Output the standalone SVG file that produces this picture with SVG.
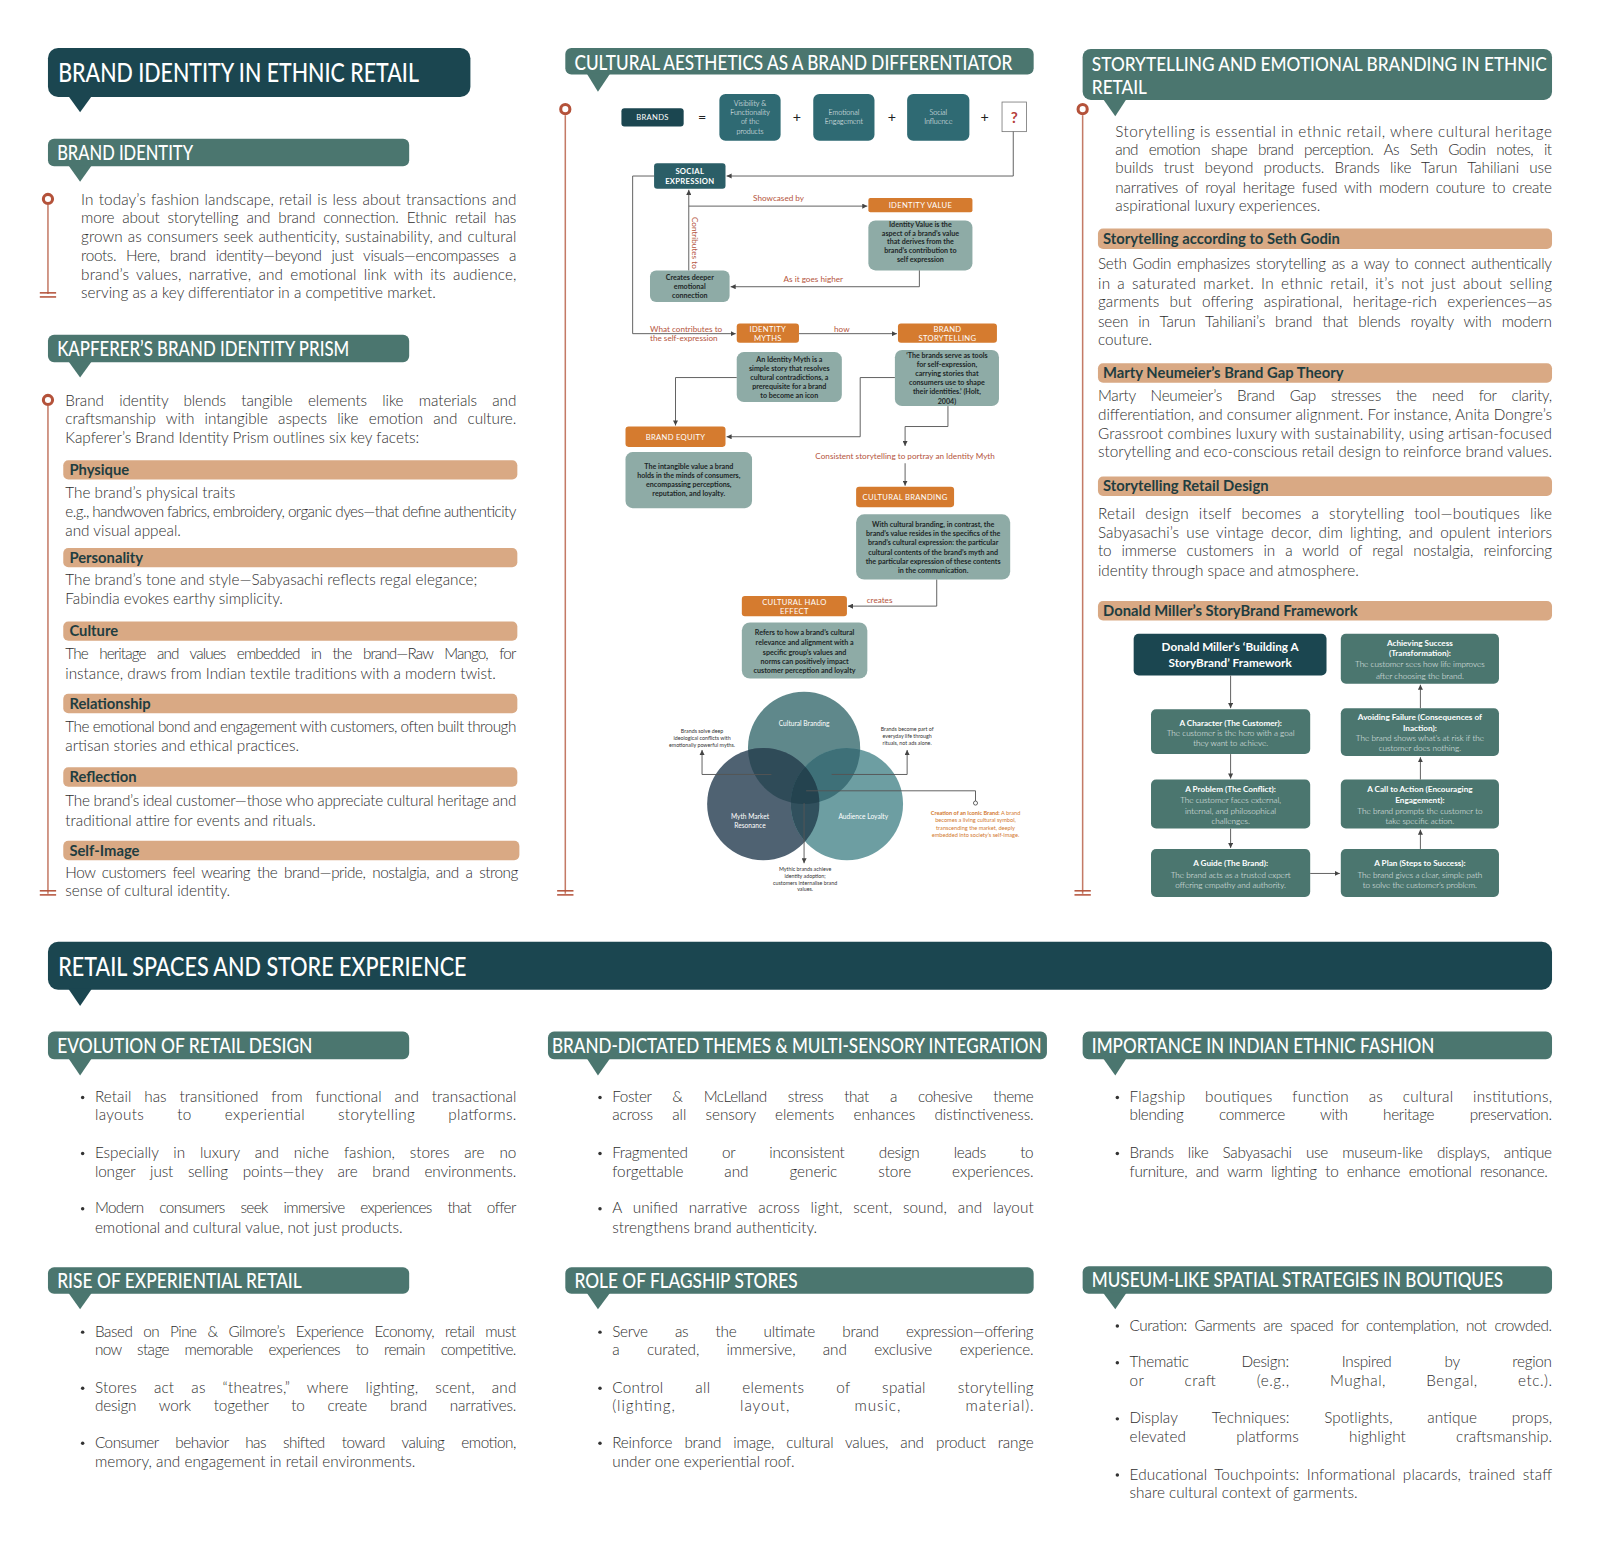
<svg xmlns="http://www.w3.org/2000/svg" width="1600" height="1551" viewBox="0 0 1600 1551">
<style>
text{font-family:Lato,"Noto Sans","DejaVu Sans",sans-serif}
.h{fill:#fff;font-weight:500}
.h1{font-size:27px}
.h2{font-size:20px}
.b{font-size:15px;font-weight:300;fill:#2e2e2e}
.bt{font-size:14.5px;font-weight:700;fill:#1f3d40}
.dk{fill:#1b4650}
.sub{fill:#4b766f}
.tan{fill:#d9a984}
.org{fill:#d57b2f}
.gry{fill:#8eaba6}
.tea{fill:#2f6a73}
.ot{font-size:7.5px;fill:#fff;text-anchor:middle;letter-spacing:0.3px}
.dt{font-size:7px;font-weight:700;fill:#1e2828;text-anchor:middle}
.lab{font-size:8px;fill:#b5553d}
.et{font-size:7px;fill:#fff;text-anchor:middle;font-weight:300}
.vt{font-size:5.2px;fill:#333;text-anchor:middle}
.vw{font-size:6.5px;fill:#fff;text-anchor:middle}
.it{font-size:5.5px;fill:#d2782e;text-anchor:middle}
.sbh{font-size:8px;font-weight:700;fill:#fff;text-anchor:middle}
.sbb{font-size:8px;font-weight:300;fill:#eef3f2;text-anchor:middle}
.con{fill:none;stroke:#555;stroke-width:0.9}
.vl{stroke:#c47a66;stroke-width:1.5;fill:none}
.dl{stroke:#b4523a;stroke-width:1.5}
.mk{fill:#fff;stroke:#b4523a;stroke-width:3}
.bul{fill:#333}
</style>
<defs>
<marker id="ar" viewBox="0 0 6 6" refX="6" refY="3" markerWidth="5" markerHeight="5" markerUnits="userSpaceOnUse" orient="auto"><path d="M0,0 L6,3 L0,6 z" fill="#444"/></marker>
<clipPath id="cC"><circle cx="788" cy="733" r="55"/></clipPath>
<clipPath id="cM"><circle cx="748" cy="788" r="55"/></clipPath>
</defs>
<rect width="1600" height="1551" fill="#fff"/>
<g transform="scale(1.0204)">

<!-- LEFT COLUMN -->
<g id="hdr-brand-identity-ethnic">
<rect x="47" y="47" width="414" height="48" rx="10" class="dk"/>
<path d="M67 94 L90 94 L78.5 110 z" class="dk"/>
<text class="h h1" transform="translate(57,80.5) scale(0.8,1)" textLength="442" lengthAdjust="spacingAndGlyphs">BRAND IDENTITY IN ETHNIC RETAIL</text>
</g>
<g id="hdr-brand-identity">
<rect x="47" y="136" width="354" height="27" rx="6" class="sub"/>
<path d="M67 162 L90 162 L78.5 178 z" class="sub"/>
<text class="h h2" transform="translate(56,157) scale(0.9,1)" textLength="148" lengthAdjust="spacingAndGlyphs">BRAND IDENTITY</text>
</g>
<g id="brand-identity-text">
<line x1="47" y1="201" x2="47" y2="288" class="vl"/>
<circle cx="47" cy="195" r="4.5" class="mk"/>
<line x1="39" y1="287" x2="55" y2="287" class="dl"/><line x1="39" y1="291" x2="55" y2="291" class="dl"/>
<text class="b" x="79.5" y="201" textLength="426.5" style="word-spacing:1px">In today’s fashion landscape, retail is less about transactions and</text>
<text class="b" x="79.5" y="219" textLength="426.5" style="word-spacing:4px">more about storytelling and brand connection. Ethnic retail has</text>
<text class="b" x="79.5" y="237" textLength="426.5" style="word-spacing:1px">grown as consumers seek authenticity, sustainability, and cultural</text>
<text class="b" x="79.5" y="256" textLength="426.5" style="word-spacing:6px">roots. Here, brand identity—beyond just visuals—encompasses a</text>
<text class="b" x="79.5" y="274" textLength="426.5" style="word-spacing:3px">brand’s values, narrative, and emotional link with its audience,</text>
<text class="b" x="79.5" y="292">serving as a key differentiator in a competitive market.</text>
</g>
<g id="hdr-kapferer">
<rect x="47" y="328" width="354" height="27" rx="6" class="sub"/>
<path d="M67 354 L90 354 L78.5 370 z" class="sub"/>
<text class="h h2" transform="translate(56,349) scale(0.87,1)" textLength="329" lengthAdjust="spacingAndGlyphs">KAPFERER’S BRAND IDENTITY PRISM</text>
</g>
<g id="kapferer-text">
<line x1="47" y1="398" x2="47" y2="876" class="vl"/>
<circle cx="47" cy="392" r="4.5" class="mk"/>
<line x1="39" y1="873" x2="55" y2="873" class="dl"/><line x1="39" y1="877" x2="55" y2="877" class="dl"/>
<text class="b" x="64" y="398" textLength="442" style="word-spacing:11px">Brand identity blends tangible elements like materials and</text>
<text class="b" x="64" y="416" textLength="442" style="word-spacing:6px">craftsmanship with intangible aspects like emotion and culture.</text>
<text class="b" x="64" y="434">Kapferer’s Brand Identity Prism outlines six key facets:</text>
</g>
<g id="facet-physique">
<rect x="62" y="451" width="445" height="19" rx="5" class="tan"/>
<text class="bt" x="68" y="465.5">Physique</text>
<text class="b" x="64" y="488">The brand’s physical traits</text>
<text class="b" x="64" y="507" textLength="442">e.g., handwoven fabrics, embroidery, organic dyes—that define authenticity</text>
<text class="b" x="64" y="525">and visual appeal.</text>
</g>
<g id="facet-personality">
<rect x="62" y="537" width="445" height="19" rx="5" class="tan"/>
<text class="bt" x="68" y="551.5">Personality</text>
<text class="b" x="64" y="573">The brand’s tone and style—Sabyasachi reflects regal elegance;</text>
<text class="b" x="64" y="592">Fabindia evokes earthy simplicity.</text>
</g>
<g id="facet-culture">
<rect x="62" y="609" width="445" height="19" rx="5" class="tan"/>
<text class="bt" x="68" y="623.5">Culture</text>
<text class="b" x="64" y="646" textLength="442" style="word-spacing:8px">The heritage and values embedded in the brand—Raw Mango, for</text>
<text class="b" x="64" y="665">instance, draws from Indian textile traditions with a modern twist.</text>
</g>
<g id="facet-relationship">
<rect x="62" y="680" width="445" height="19" rx="5" class="tan"/>
<text class="bt" x="68" y="694.5">Relationship</text>
<text class="b" x="64" y="717" textLength="442">The emotional bond and engagement with customers, often built through</text>
<text class="b" x="64" y="736">artisan stories and ethical practices.</text>
</g>
<g id="facet-reflection">
<rect x="62" y="752" width="445" height="19" rx="5" class="tan"/>
<text class="bt" x="68" y="766.5">Reflection</text>
<text class="b" x="64" y="790" textLength="442">The brand’s ideal customer—those who appreciate cultural heritage and</text>
<text class="b" x="64" y="809">traditional attire for events and rituals.</text>
</g>
<g id="facet-self-image">
<rect x="62" y="824" width="447" height="19" rx="5" class="tan"/>
<text class="bt" x="68" y="838.5">Self-Image</text>
<text class="b" x="64" y="860" textLength="444" style="word-spacing:3px">How customers feel wearing the brand—pride, nostalgia, and a strong</text>
<text class="b" x="64" y="878">sense of cultural identity.</text>
</g>

<!-- CENTER COLUMN -->
<g id="hdr-cultural-aesthetics">
<rect x="554" y="47" width="459" height="26" rx="6" class="sub"/>
<path d="M575 72 L598 72 L586 90 z" class="sub"/>
<text class="h h2" transform="translate(563,68.5) scale(0.88,1)" textLength="487.5" lengthAdjust="spacingAndGlyphs">CULTURAL AESTHETICS AS A BRAND DIFFERENTIATOR</text>
<line x1="554" y1="113" x2="554" y2="876" class="vl"/>
<circle cx="554" cy="107" r="4.5" class="mk"/>
<line x1="546" y1="873" x2="562" y2="873" class="dl"/><line x1="546" y1="877" x2="562" y2="877" class="dl"/>
</g>
<g id="eq-brands"><rect x="609" y="106" width="61" height="18" rx="3" class="dk"/><text class="ot" x="639.5" y="118">BRANDS</text></g>
<text x="688" y="120" font-size="14" text-anchor="middle" fill="#222">=</text>
<g id="eq-visibility"><rect x="705" y="92" width="60" height="46" rx="6" class="tea"/>
<text class="et" x="735" y="104">Visibility &amp;</text><text class="et" x="735" y="113">Functionality</text><text class="et" x="735" y="122">of the</text><text class="et" x="735" y="131">products</text></g>
<text x="781" y="120" font-size="14" text-anchor="middle" fill="#222">+</text>
<g id="eq-emotional"><rect x="797" y="92" width="60" height="46" rx="6" class="tea"/>
<text class="et" x="827" y="113">Emotional</text><text class="et" x="827" y="122">Engagement</text></g>
<text x="874" y="120" font-size="14" text-anchor="middle" fill="#222">+</text>
<g id="eq-social"><rect x="889" y="92" width="61" height="46" rx="6" class="tea"/>
<text class="et" x="919.5" y="113">Social</text><text class="et" x="919.5" y="122">Influence</text></g>
<text x="965" y="120" font-size="14" text-anchor="middle" fill="#222">+</text>
<g id="eq-question"><rect x="982" y="100" width="24" height="29" fill="#fff" stroke="#777" stroke-width="0.8"/>
<text x="994" y="120.5" font-size="15" font-weight="700" text-anchor="middle" fill="#b5403a">?</text></g>

<g id="n-social-expression"><rect x="641" y="160" width="70" height="25" rx="3" fill="#2b5e67"/>
<text class="ot" x="676" y="171" font-weight="700">SOCIAL</text><text class="ot" x="676" y="180" font-weight="700">EXPRESSION</text></g>
<g id="n-identity-value"><rect x="851" y="194" width="102" height="14" rx="2" class="org"/>
<text class="ot" x="902" y="203.8">IDENTITY VALUE</text></g>
<g id="n-identity-value-desc"><rect x="851" y="216" width="102" height="49" rx="7" class="gry"/>
<text class="dt" x="902" y="222.5">Identity Value is the</text><text class="dt" x="902" y="231">aspect of a brand’s value</text><text class="dt" x="902" y="239.5">that derives from the</text><text class="dt" x="902" y="248">brand’s contribution to</text><text class="dt" x="902" y="256.5">self expression</text></g>
<g id="n-creates"><rect x="637" y="265" width="78" height="31" rx="6" class="gry"/>
<text class="dt" x="676" y="274.5">Creates deeper</text><text class="dt" x="676" y="283.5">emotional</text><text class="dt" x="676" y="292">connection</text></g>
<g id="n-identity-myths"><rect x="722" y="317" width="61" height="19" rx="3" class="org"/>
<text class="ot" x="752.5" y="325">IDENTITY</text><text class="ot" x="752.5" y="334">MYTHS</text></g>
<g id="n-brand-storytelling"><rect x="880" y="317" width="97" height="19" rx="3" class="org"/>
<text class="ot" x="928.5" y="325">BRAND</text><text class="ot" x="928.5" y="334">STORYTELLING</text></g>
<g id="n-identity-myth-desc"><rect x="722" y="345" width="103" height="49" rx="7" class="gry"/>
<text class="dt" x="773.5" y="354.5">An Identity Myth is a</text><text class="dt" x="773.5" y="363.5">simple story that resolves</text><text class="dt" x="773.5" y="372.5">cultural contradictions, a</text><text class="dt" x="773.5" y="381.5">prerequisite for a brand</text><text class="dt" x="773.5" y="390.5">to become an icon</text></g>
<g id="n-holt"><rect x="877" y="343" width="102" height="55" rx="7" class="gry"/>
<text class="dt" x="928" y="350.5">‘The brands serve as tools</text><text class="dt" x="928" y="359.5">for self-expression,</text><text class="dt" x="928" y="368.5">carrying stories that</text><text class="dt" x="928" y="377.5">consumers use to shape</text><text class="dt" x="928" y="386.5">their identities.’ (Holt,</text><text class="dt" x="928" y="395.5">2004)</text></g>
<g id="n-brand-equity"><rect x="613" y="418" width="98" height="20" rx="3" class="org"/>
<text class="ot" x="662" y="431">BRAND EQUITY</text></g>
<g id="n-brand-equity-desc"><rect x="613" y="443" width="124" height="55" rx="7" class="gry"/>
<text class="dt" x="675" y="459.5">The intangible value a brand</text><text class="dt" x="675" y="468.5">holds in the minds of consumers,</text><text class="dt" x="675" y="477.5">encompassing perceptions,</text><text class="dt" x="675" y="486.5">reputation, and loyalty.</text></g>
<g id="n-cultural-branding"><rect x="839" y="477" width="96" height="20" rx="3" class="org"/>
<text class="ot" x="887" y="490">CULTURAL BRANDING</text></g>
<g id="n-cultural-branding-desc"><rect x="839" y="504" width="151" height="64" rx="8" class="gry"/>
<text class="dt" x="914.5" y="516" font-size="6.5">With cultural branding, in contrast, the</text><text class="dt" x="914.5" y="525" font-size="6.5">brand’s value resides in the specifics of the</text><text class="dt" x="914.5" y="534.5" font-size="6.5">brand’s cultural expression: the particular</text><text class="dt" x="914.5" y="543.5" font-size="6.5">cultural contents of the brand’s myth and</text><text class="dt" x="914.5" y="553" font-size="6.5">the particular expression of these contents</text><text class="dt" x="914.5" y="562" font-size="6.5">in the communication.</text></g>
<g id="n-halo"><rect x="727" y="584" width="103" height="20" rx="3" class="org"/>
<text class="ot" x="778.5" y="592.5">CULTURAL HALO</text><text class="ot" x="778.5" y="601.5">EFFECT</text></g>
<g id="n-halo-desc"><rect x="727" y="610" width="123" height="55" rx="8" class="gry"/>
<text class="dt" x="788.5" y="622.5">Refers to how a brand’s cultural</text><text class="dt" x="788.5" y="632">relevance and alignment with a</text><text class="dt" x="788.5" y="641.5">specific group’s values and</text><text class="dt" x="788.5" y="650.5">norms can positively impact</text><text class="dt" x="788.5" y="660">customer perception and loyalty</text></g>

<g id="venn">
<circle cx="788" cy="733" r="55" fill="#5f888b"/>
<circle cx="748" cy="788" r="55" fill="#4f6272"/>
<circle cx="830" cy="788" r="55" fill="#6d9ea2"/>
<circle cx="748" cy="788" r="55" fill="#2f4b58" clip-path="url(#cC)"/>
<circle cx="830" cy="788" r="55" fill="#3e7078" clip-path="url(#cC)"/>
<circle cx="830" cy="788" r="55" fill="#31505d" clip-path="url(#cM)"/>
<g clip-path="url(#cC)"><circle cx="830" cy="788" r="55" fill="#24434f" clip-path="url(#cM)"/></g>
<text class="vw" x="788" y="711">Cultural Branding</text>
<text class="vw" x="735" y="803">Myth Market</text><text class="vw" x="735" y="811">Resonance</text>
<text class="vw" x="846" y="803">Audience Loyalty</text>
<text class="vt" x="688" y="718">Brands solve deep</text><text class="vt" x="688" y="725">ideological conflicts with</text><text class="vt" x="688" y="732">emotionally powerful myths.</text>
<text class="vt" x="889" y="716">Brands become part of</text><text class="vt" x="889" y="723">everyday life through</text><text class="vt" x="889" y="730">rituals, not ads alone.</text>
<text class="it" x="956" y="799"><tspan font-weight="700">Creation of an Iconic Brand:</tspan> A brand</text>
<text class="it" x="956" y="806">becomes a living cultural symbol,</text><text class="it" x="956" y="813">transcending the market, deeply</text><text class="it" x="956" y="820">embedded into society’s self-image.</text>
<text class="vt" x="789" y="854">Mythic brands achieve</text><text class="vt" x="789" y="860.5">identity adoption;</text><text class="vt" x="789" y="867">customers internalise brand</text><text class="vt" x="789" y="873.5">values.</text>
</g>

<!-- RIGHT COLUMN -->
<g id="hdr-storytelling">
<rect x="1061" y="48" width="460" height="50" rx="8" class="sub"/>
<path d="M1081 97 L1104 97 L1093 114 z" class="sub"/>
<text class="h" font-size="19" transform="translate(1070,69.5) scale(0.96,1)" textLength="464.5" lengthAdjust="spacingAndGlyphs">STORYTELLING AND EMOTIONAL BRANDING IN ETHNIC</text>
<text class="h" font-size="19" transform="translate(1070,92.5) scale(0.9,1)" textLength="60" lengthAdjust="spacingAndGlyphs">RETAIL</text>
<line x1="1061" y1="113" x2="1061" y2="876" class="vl"/>
<circle cx="1061" cy="107" r="4.5" class="mk"/>
<line x1="1053" y1="873" x2="1069" y2="873" class="dl"/><line x1="1053" y1="877" x2="1069" y2="877" class="dl"/>
</g>
<g id="storytelling-text">
<text class="b" x="1093" y="134" textLength="428">Storytelling is essential in ethnic retail, where cultural heritage</text>
<text class="b" x="1093" y="152" textLength="428" style="word-spacing:7px">and emotion shape brand perception. As Seth Godin notes, it</text>
<text class="b" x="1093" y="170" textLength="428" style="word-spacing:6px">builds trust beyond products. Brands like Tarun Tahiliani use</text>
<text class="b" x="1093" y="189" textLength="428" style="word-spacing:3px">narratives of royal heritage fused with modern couture to create</text>
<text class="b" x="1093" y="207">aspirational luxury experiences.</text>
</g>
<g id="sec-seth-godin">
<rect x="1076" y="224" width="445" height="20" rx="5" class="tan"/>
<text class="bt" x="1081" y="239">Storytelling according to Seth Godin</text>
<text class="b" x="1076" y="264" textLength="445" style="word-spacing:2px">Seth Godin emphasizes storytelling as a way to connect authentically</text>
<text class="b" x="1076" y="283" textLength="445" style="word-spacing:2.5px">in a saturated market. In ethnic retail, it’s not just about selling</text>
<text class="b" x="1076" y="301" textLength="445" style="word-spacing:6px">garments but offering aspirational, heritage-rich experiences—as</text>
<text class="b" x="1076" y="320" textLength="445" style="word-spacing:6px">seen in Tarun Tahiliani’s brand that blends royalty with modern</text>
<text class="b" x="1076" y="338">couture.</text>
</g>
<g id="sec-marty">
<rect x="1076" y="356" width="445" height="19" rx="5" class="tan"/>
<text class="bt" x="1081" y="370.5">Marty Neumeier’s Brand Gap Theory</text>
<text class="b" x="1076" y="393" textLength="445" style="word-spacing:11px">Marty Neumeier’s Brand Gap stresses the need for clarity,</text>
<text class="b" x="1076" y="412" textLength="445">differentiation, and consumer alignment. For instance, Anita Dongre’s</text>
<text class="b" x="1076" y="430" textLength="445">Grassroot combines luxury with sustainability, using artisan-focused</text>
<text class="b" x="1076" y="448" textLength="445">storytelling and eco-conscious retail design to reinforce brand values.</text>
</g>
<g id="sec-retail-design">
<rect x="1076" y="467" width="445" height="19" rx="5" class="tan"/>
<text class="bt" x="1081" y="481.5">Storytelling Retail Design</text>
<text class="b" x="1076" y="509" textLength="445" style="word-spacing:5.5px">Retail design itself becomes a storytelling tool—boutiques like</text>
<text class="b" x="1076" y="527" textLength="445" style="word-spacing:3px">Sabyasachi’s use vintage decor, dim lighting, and opulent interiors</text>
<text class="b" x="1076" y="545" textLength="445" style="word-spacing:6px">to immerse customers in a world of regal nostalgia, reinforcing</text>
<text class="b" x="1076" y="564">identity through space and atmosphere.</text>
</g>
<g id="sec-donald-miller">
<rect x="1076" y="589" width="445" height="19" rx="5" class="tan"/>
<text class="bt" x="1081" y="603.5">Donald Miller’s StoryBrand Framework</text>
</g>
<g id="sb-title"><rect x="1111" y="621" width="189" height="41" rx="5" class="dk"/>
<text x="1205.5" y="638" font-size="11.5" font-weight="700" fill="#fff" text-anchor="middle">Donald Miller’s ‘Building A</text>
<text x="1205.5" y="654" font-size="11.5" font-weight="700" fill="#fff" text-anchor="middle">StoryBrand’ Framework</text></g>
<g id="sb-character"><rect x="1128" y="695" width="156" height="44" rx="5" class="sub"/>
<text class="sbh" x="1206" y="711">A Character (The Customer):</text><text class="sbb" x="1206" y="721">The customer is the hero with a goal</text><text class="sbb" x="1206" y="731">they want to achieve.</text></g>
<g id="sb-problem"><rect x="1128" y="764" width="156" height="48" rx="5" class="sub"/>
<text class="sbh" x="1206" y="776">A Problem (The Conflict):</text><text class="sbb" x="1206" y="787">The customer faces external,</text><text class="sbb" x="1206" y="798">internal, and philosophical</text><text class="sbb" x="1206" y="808">challenges.</text></g>
<g id="sb-guide"><rect x="1128" y="832" width="156" height="47" rx="5" class="sub"/>
<text class="sbh" x="1206" y="849">A Guide (The Brand):</text><text class="sbb" x="1206" y="860">The brand acts as a trusted expert</text><text class="sbb" x="1206" y="870">offering empathy and authority.</text></g>
<g id="sb-plan"><rect x="1314" y="832" width="155" height="47" rx="5" class="sub"/>
<text class="sbh" x="1391.5" y="849">A Plan (Steps to Success):</text><text class="sbb" x="1391.5" y="860">The brand gives a clear, simple path</text><text class="sbb" x="1391.5" y="870">to solve the customer’s problem.</text></g>
<g id="sb-call"><rect x="1314" y="764" width="155" height="48" rx="5" class="sub"/>
<text class="sbh" x="1391.5" y="776">A Call to Action (Encouraging</text><text class="sbh" x="1391.5" y="787">Engagement):</text><text class="sbb" x="1391.5" y="798">The brand prompts the customer to</text><text class="sbb" x="1391.5" y="808">take specific action.</text></g>
<g id="sb-avoid"><rect x="1314" y="694" width="155" height="47" rx="5" class="sub"/>
<text class="sbh" x="1391.5" y="706">Avoiding Failure (Consequences of</text><text class="sbh" x="1391.5" y="716">Inaction):</text><text class="sbb" x="1391.5" y="726">The brand shows what’s at risk if the</text><text class="sbb" x="1391.5" y="736">customer does nothing.</text></g>
<g id="sb-success"><rect x="1314" y="621" width="155" height="49" rx="5" class="sub"/>
<text class="sbh" x="1391.5" y="633">Achieving Success</text><text class="sbh" x="1391.5" y="643">(Transformation):</text><text class="sbb" x="1391.5" y="654">The customer sees how life improves</text><text class="sbb" x="1391.5" y="665">after choosing the brand.</text></g>

<!-- CONNECTORS -->
<g id="connectors" class="con">
<path d="M993 129 V172.5 H712" marker-end="url(#ar)"/>
<path d="M641 172.5 H620 V327 H721" marker-end="url(#ar)"/>
<path d="M675 265 V186" marker-end="url(#ar)"/>
<path d="M675 202 H850" marker-end="url(#ar)"/>
<path d="M901 265 V281 H716" marker-end="url(#ar)"/>
<path d="M783 327 H879" marker-end="url(#ar)"/>
<path d="M722 370 H662 V417" marker-end="url(#ar)"/>
<path d="M877 370 H843 V428 H712" marker-end="url(#ar)"/>
<path d="M929 398 V418 H887 V437" marker-end="url(#ar)"/>
<path d="M887 454 V476" marker-end="url(#ar)"/>
<path d="M918 568 V594 H831" marker-end="url(#ar)"/>
<path d="M756 759 H688 V735" marker-end="url(#ar)"/>
<path d="M815 759 H889 V735" marker-end="url(#ar)"/>
<path d="M790 775 H956 V785"/>
<circle cx="956" cy="787" r="2" fill="#fff"/>
<path d="M788 787 V846" marker-end="url(#ar)"/>
<path d="M1206 662 V694" marker-end="url(#ar)"/>
<path d="M1206 739 V763" marker-end="url(#ar)"/>
<path d="M1206 812 V831" marker-end="url(#ar)"/>
<path d="M1284 856 H1313" marker-end="url(#ar)"/>
<path d="M1392 832 V813" marker-end="url(#ar)"/>
<path d="M1392 764 V742" marker-end="url(#ar)"/>
<path d="M1392 694 V671" marker-end="url(#ar)"/>
</g>
<g id="connector-labels">
<text class="lab" x="763" y="197" text-anchor="middle">Showcased by</text>
<text class="lab" transform="translate(678,238) rotate(90)" text-anchor="middle">Contributes to</text>
<text class="lab" x="797" y="276" text-anchor="middle">As it goes higher</text>
<text class="lab" x="637" y="325">What contributes to</text>
<text class="lab" x="637" y="334">the self-expression</text>
<text class="lab" x="825" y="325" text-anchor="middle">how</text>
<text class="lab" x="887" y="449.5" text-anchor="middle" font-size="7.5">Consistent storytelling to portray an Identity Myth</text>
<text class="lab" x="862" y="590.5" text-anchor="middle">creates</text>
</g>

<!-- BOTTOM SECTION -->
<g id="hdr-retail-spaces">
<rect x="47" y="923" width="1474" height="47" rx="10" class="dk"/>
<path d="M67 969 L90 969 L78.5 986 z" class="dk"/>
<text class="h h1" transform="translate(57,956) scale(0.82,1)" textLength="488" lengthAdjust="spacingAndGlyphs">RETAIL SPACES AND STORE EXPERIENCE</text>
</g>
<g id="sec-evolution">
<rect x="47" y="1011" width="354" height="27" rx="6" class="sub"/>
<path d="M67 1037 L90 1037 L78.5 1054 z" class="sub"/>
<text class="h h2" transform="translate(56,1032) scale(0.9,1)" textLength="278" lengthAdjust="spacingAndGlyphs">EVOLUTION OF RETAIL DESIGN</text>
<circle cx="81" cy="1075.5" r="1.7" class="bul"/><circle cx="81" cy="1130.5" r="1.7" class="bul"/><circle cx="81" cy="1184.5" r="1.7" class="bul"/>
<text class="b" x="93" y="1080" textLength="413" style="word-spacing:8.5px">Retail has transitioned from functional and transactional</text>
<text class="b" x="93" y="1098" textLength="413" style="word-spacing:28px">layouts to experiential storytelling platforms.</text>
<text class="b" x="93" y="1135" textLength="413" style="word-spacing:10.5px">Especially in luxury and niche fashion, stores are no</text>
<text class="b" x="93" y="1153" textLength="413" style="word-spacing:10.5px">longer just selling points—they are brand environments.</text>
<text class="b" x="93" y="1189" textLength="413" style="word-spacing:12px">Modern consumers seek immersive experiences that offer</text>
<text class="b" x="93" y="1208">emotional and cultural value, not just products.</text>
</g>
<g id="sec-themes">
<rect x="537" y="1011" width="489" height="27" rx="6" class="sub"/>
<path d="M575 1037 L598 1037 L586 1054 z" class="sub"/>
<text class="h h2" transform="translate(541,1032) scale(0.9,1)" textLength="533" lengthAdjust="spacingAndGlyphs">BRAND-DICTATED THEMES &amp; MULTI-SENSORY INTEGRATION</text>
<circle cx="588" cy="1075.5" r="1.7" class="bul"/><circle cx="588" cy="1130.5" r="1.7" class="bul"/><circle cx="588" cy="1184.5" r="1.7" class="bul"/>
<text class="b" x="600" y="1080" textLength="413" style="word-spacing:17px">Foster &amp; McLelland stress that a cohesive theme</text>
<text class="b" x="600" y="1098" textLength="413" style="word-spacing:15px">across all sensory elements enhances distinctiveness.</text>
<text class="b" x="600" y="1135" textLength="413" style="word-spacing:30px">Fragmented or inconsistent design leads to</text>
<text class="b" x="600" y="1153" textLength="413" style="word-spacing:36px">forgettable and generic store experiences.</text>
<text class="b" x="600" y="1189" textLength="413" style="word-spacing:6.5px">A unified narrative across light, scent, sound, and layout</text>
<text class="b" x="600" y="1208">strengthens brand authenticity.</text>
</g>
<g id="sec-importance">
<rect x="1061" y="1011" width="460" height="27" rx="6" class="sub"/>
<path d="M1081 1037 L1104 1037 L1093 1054 z" class="sub"/>
<text class="h h2" transform="translate(1070,1032) scale(0.9,1)" textLength="373" lengthAdjust="spacingAndGlyphs">IMPORTANCE IN INDIAN ETHNIC FASHION</text>
<circle cx="1095" cy="1075.5" r="1.7" class="bul"/><circle cx="1095" cy="1130.5" r="1.7" class="bul"/>
<text class="b" x="1107" y="1080" textLength="414" style="word-spacing:15px">Flagship boutiques function as cultural institutions,</text>
<text class="b" x="1107" y="1098" textLength="414" style="word-spacing:31px">blending commerce with heritage preservation.</text>
<text class="b" x="1107" y="1135" textLength="414" style="word-spacing:10px">Brands like Sabyasachi use museum-like displays, antique</text>
<text class="b" x="1107" y="1153" textLength="410" style="word-spacing:4.5px">furniture, and warm lighting to enhance emotional resonance.</text>
</g>
<g id="sec-rise">
<rect x="47" y="1242" width="354" height="26" rx="6" class="sub"/>
<path d="M67 1267 L90 1267 L78.5 1283 z" class="sub"/>
<text class="h h2" transform="translate(56,1262) scale(0.85,1)" textLength="282" lengthAdjust="spacingAndGlyphs">RISE OF EXPERIENTIAL RETAIL</text>
<circle cx="81" cy="1305.5" r="1.7" class="bul"/><circle cx="81" cy="1360.5" r="1.7" class="bul"/><circle cx="81" cy="1414.5" r="1.7" class="bul"/>
<text class="b" x="93" y="1310" textLength="413" style="word-spacing:7px">Based on Pine &amp; Gilmore’s Experience Economy, retail must</text>
<text class="b" x="93" y="1328" textLength="413" style="word-spacing:12px">now stage memorable experiences to remain competitive.</text>
<text class="b" x="93" y="1365" textLength="413" style="word-spacing:12.5px">Stores act as “theatres,” where lighting, scent, and</text>
<text class="b" x="93" y="1383" textLength="413" style="word-spacing:18.5px">design work together to create brand narratives.</text>
<text class="b" x="93" y="1419" textLength="413" style="word-spacing:13px">Consumer behavior has shifted toward valuing emotion,</text>
<text class="b" x="93" y="1438">memory, and engagement in retail environments.</text>
</g>
<g id="sec-flagship">
<rect x="554" y="1242" width="459" height="26" rx="6" class="sub"/>
<path d="M575 1267 L598 1267 L586 1283 z" class="sub"/>
<text class="h h2" transform="translate(563,1262) scale(0.9,1)" textLength="243" lengthAdjust="spacingAndGlyphs">ROLE OF FLAGSHIP STORES</text>
<circle cx="588" cy="1305.5" r="1.7" class="bul"/><circle cx="588" cy="1360.5" r="1.7" class="bul"/><circle cx="588" cy="1414.5" r="1.7" class="bul"/>
<text class="b" x="600" y="1310" textLength="413" style="word-spacing:23px">Serve as the ultimate brand expression—offering</text>
<text class="b" x="600" y="1328" textLength="413" style="word-spacing:23px">a curated, immersive, and exclusive experience.</text>
<text class="b" x="600" y="1365" textLength="413" style="word-spacing:27px">Control all elements of spatial storytelling</text>
<text class="b" x="600" y="1383" textLength="413" style="word-spacing:58px">(lighting, layout, music, material).</text>
<text class="b" x="600" y="1419" textLength="413" style="word-spacing:8px">Reinforce brand image, cultural values, and product range</text>
<text class="b" x="600" y="1438">under one experiential roof.</text>
</g>
<g id="sec-museum">
<rect x="1061" y="1241" width="460" height="27" rx="6" class="sub"/>
<path d="M1081 1267 L1104 1267 L1093 1283 z" class="sub"/>
<text class="h h2" transform="translate(1070,1261) scale(0.88,1)" textLength="458" lengthAdjust="spacingAndGlyphs">MUSEUM-LIKE SPATIAL STRATEGIES IN BOUTIQUES</text>
<circle cx="1095" cy="1299.5" r="1.7" class="bul"/><circle cx="1095" cy="1335.5" r="1.7" class="bul"/><circle cx="1095" cy="1390.5" r="1.7" class="bul"/><circle cx="1095" cy="1445.5" r="1.7" class="bul"/>
<text class="b" x="1107" y="1304" textLength="414" style="word-spacing:4px">Curation: Garments are spaced for contemplation, not crowded.</text>
<text class="b" x="1107" y="1340" textLength="414" style="word-spacing:48px">Thematic Design: Inspired by region</text>
<text class="b" x="1107" y="1358" textLength="414" style="word-spacing:35px">or craft (e.g., Mughal, Bengal, etc.).</text>
<text class="b" x="1107" y="1395" textLength="414" style="word-spacing:30px">Display Techniques: Spotlights, antique props,</text>
<text class="b" x="1107" y="1413" textLength="414" style="word-spacing:45px">elevated platforms highlight craftsmanship.</text>
<text class="b" x="1107" y="1450" textLength="414" style="word-spacing:3px">Educational Touchpoints: Informational placards, trained staff</text>
<text class="b" x="1107" y="1468">share cultural context of garments.</text>
</g>
</g>
</svg>
